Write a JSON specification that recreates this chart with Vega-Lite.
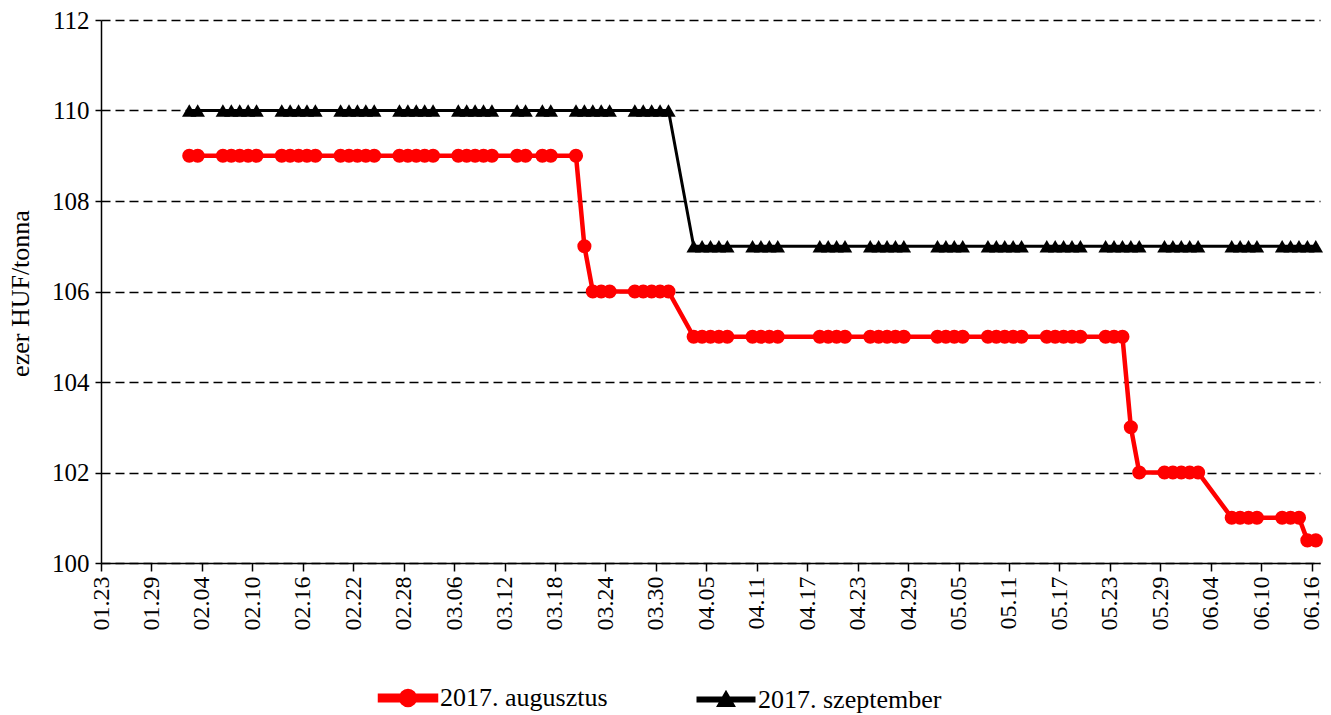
{
  "$schema": "https://vega.github.io/schema/vega-lite/v6.json",
  "width": 1219,
  "height": 543,
  "autosize": {"type": "none"},
  "padding": {"left": 101, "top": 20, "right": 11, "bottom": 152},
  "background": "white",
  "config": {
    "view": {"stroke": null},
    "font": "Liberation Serif"
  },
  "data": {
    "values": [
      {"d": "2017-02-02", "a": 109, "s": 110},
      {"d": "2017-02-03", "a": 109, "s": 110},
      {"d": "2017-02-06", "a": 109, "s": 110},
      {"d": "2017-02-07", "a": 109, "s": 110},
      {"d": "2017-02-08", "a": 109, "s": 110},
      {"d": "2017-02-09", "a": 109, "s": 110},
      {"d": "2017-02-10", "a": 109, "s": 110},
      {"d": "2017-02-13", "a": 109, "s": 110},
      {"d": "2017-02-14", "a": 109, "s": 110},
      {"d": "2017-02-15", "a": 109, "s": 110},
      {"d": "2017-02-16", "a": 109, "s": 110},
      {"d": "2017-02-17", "a": 109, "s": 110},
      {"d": "2017-02-20", "a": 109, "s": 110},
      {"d": "2017-02-21", "a": 109, "s": 110},
      {"d": "2017-02-22", "a": 109, "s": 110},
      {"d": "2017-02-23", "a": 109, "s": 110},
      {"d": "2017-02-24", "a": 109, "s": 110},
      {"d": "2017-02-27", "a": 109, "s": 110},
      {"d": "2017-02-28", "a": 109, "s": 110},
      {"d": "2017-03-01", "a": 109, "s": 110},
      {"d": "2017-03-02", "a": 109, "s": 110},
      {"d": "2017-03-03", "a": 109, "s": 110},
      {"d": "2017-03-06", "a": 109, "s": 110},
      {"d": "2017-03-07", "a": 109, "s": 110},
      {"d": "2017-03-08", "a": 109, "s": 110},
      {"d": "2017-03-09", "a": 109, "s": 110},
      {"d": "2017-03-10", "a": 109, "s": 110},
      {"d": "2017-03-13", "a": 109, "s": 110},
      {"d": "2017-03-14", "a": 109, "s": 110},
      {"d": "2017-03-16", "a": 109, "s": 110},
      {"d": "2017-03-17", "a": 109, "s": 110},
      {"d": "2017-03-20", "a": 109, "s": 110},
      {"d": "2017-03-21", "a": 107, "s": 110},
      {"d": "2017-03-22", "a": 106, "s": 110},
      {"d": "2017-03-23", "a": 106, "s": 110},
      {"d": "2017-03-24", "a": 106, "s": 110},
      {"d": "2017-03-27", "a": 106, "s": 110},
      {"d": "2017-03-28", "a": 106, "s": 110},
      {"d": "2017-03-29", "a": 106, "s": 110},
      {"d": "2017-03-30", "a": 106, "s": 110},
      {"d": "2017-03-31", "a": 106, "s": 110},
      {"d": "2017-04-03", "a": 105, "s": 107},
      {"d": "2017-04-04", "a": 105, "s": 107},
      {"d": "2017-04-05", "a": 105, "s": 107},
      {"d": "2017-04-06", "a": 105, "s": 107},
      {"d": "2017-04-07", "a": 105, "s": 107},
      {"d": "2017-04-10", "a": 105, "s": 107},
      {"d": "2017-04-11", "a": 105, "s": 107},
      {"d": "2017-04-12", "a": 105, "s": 107},
      {"d": "2017-04-13", "a": 105, "s": 107},
      {"d": "2017-04-18", "a": 105, "s": 107},
      {"d": "2017-04-19", "a": 105, "s": 107},
      {"d": "2017-04-20", "a": 105, "s": 107},
      {"d": "2017-04-21", "a": 105, "s": 107},
      {"d": "2017-04-24", "a": 105, "s": 107},
      {"d": "2017-04-25", "a": 105, "s": 107},
      {"d": "2017-04-26", "a": 105, "s": 107},
      {"d": "2017-04-27", "a": 105, "s": 107},
      {"d": "2017-04-28", "a": 105, "s": 107},
      {"d": "2017-05-02", "a": 105, "s": 107},
      {"d": "2017-05-03", "a": 105, "s": 107},
      {"d": "2017-05-04", "a": 105, "s": 107},
      {"d": "2017-05-05", "a": 105, "s": 107},
      {"d": "2017-05-08", "a": 105, "s": 107},
      {"d": "2017-05-09", "a": 105, "s": 107},
      {"d": "2017-05-10", "a": 105, "s": 107},
      {"d": "2017-05-11", "a": 105, "s": 107},
      {"d": "2017-05-12", "a": 105, "s": 107},
      {"d": "2017-05-15", "a": 105, "s": 107},
      {"d": "2017-05-16", "a": 105, "s": 107},
      {"d": "2017-05-17", "a": 105, "s": 107},
      {"d": "2017-05-18", "a": 105, "s": 107},
      {"d": "2017-05-19", "a": 105, "s": 107},
      {"d": "2017-05-22", "a": 105, "s": 107},
      {"d": "2017-05-23", "a": 105, "s": 107},
      {"d": "2017-05-24", "a": 105, "s": 107},
      {"d": "2017-05-25", "a": 103, "s": 107},
      {"d": "2017-05-26", "a": 102, "s": 107},
      {"d": "2017-05-29", "a": 102, "s": 107},
      {"d": "2017-05-30", "a": 102, "s": 107},
      {"d": "2017-05-31", "a": 102, "s": 107},
      {"d": "2017-06-01", "a": 102, "s": 107},
      {"d": "2017-06-02", "a": 102, "s": 107},
      {"d": "2017-06-06", "a": 101, "s": 107},
      {"d": "2017-06-07", "a": 101, "s": 107},
      {"d": "2017-06-08", "a": 101, "s": 107},
      {"d": "2017-06-09", "a": 101, "s": 107},
      {"d": "2017-06-12", "a": 101, "s": 107},
      {"d": "2017-06-13", "a": 101, "s": 107},
      {"d": "2017-06-14", "a": 101, "s": 107},
      {"d": "2017-06-15", "a": 100.5, "s": 107},
      {"d": "2017-06-16", "a": 100.5, "s": 107}
    ]
  },
  "transform": [
    {"fold": ["a", "s"], "as": ["series", "value"]}
  ],
  "encoding": {
    "x": {
      "field": "d",
      "type": "temporal",
      "scale": {
        "type": "utc",
        "domain": [
          {"year": 2017, "month": 1, "date": 22, "hours": 12, "utc": true},
          {"year": 2017, "month": 6, "date": 16, "hours": 12, "utc": true}
        ]
      },
      "axis": {
        "title": null,
        "labelExpr": "utcFormat(datum.value + 43200000, '%m.%d')",
        "values": [
          {"year": 2017, "month": 1, "date": 22, "hours": 12, "utc": true},
          {"year": 2017, "month": 1, "date": 28, "hours": 12, "utc": true},
          {"year": 2017, "month": 2, "date": 3, "hours": 12, "utc": true},
          {"year": 2017, "month": 2, "date": 9, "hours": 12, "utc": true},
          {"year": 2017, "month": 2, "date": 15, "hours": 12, "utc": true},
          {"year": 2017, "month": 2, "date": 21, "hours": 12, "utc": true},
          {"year": 2017, "month": 2, "date": 27, "hours": 12, "utc": true},
          {"year": 2017, "month": 3, "date": 5, "hours": 12, "utc": true},
          {"year": 2017, "month": 3, "date": 11, "hours": 12, "utc": true},
          {"year": 2017, "month": 3, "date": 17, "hours": 12, "utc": true},
          {"year": 2017, "month": 3, "date": 23, "hours": 12, "utc": true},
          {"year": 2017, "month": 3, "date": 29, "hours": 12, "utc": true},
          {"year": 2017, "month": 4, "date": 4, "hours": 12, "utc": true},
          {"year": 2017, "month": 4, "date": 10, "hours": 12, "utc": true},
          {"year": 2017, "month": 4, "date": 16, "hours": 12, "utc": true},
          {"year": 2017, "month": 4, "date": 22, "hours": 12, "utc": true},
          {"year": 2017, "month": 4, "date": 28, "hours": 12, "utc": true},
          {"year": 2017, "month": 5, "date": 4, "hours": 12, "utc": true},
          {"year": 2017, "month": 5, "date": 10, "hours": 12, "utc": true},
          {"year": 2017, "month": 5, "date": 16, "hours": 12, "utc": true},
          {"year": 2017, "month": 5, "date": 22, "hours": 12, "utc": true},
          {"year": 2017, "month": 5, "date": 28, "hours": 12, "utc": true},
          {"year": 2017, "month": 6, "date": 3, "hours": 12, "utc": true},
          {"year": 2017, "month": 6, "date": 9, "hours": 12, "utc": true},
          {"year": 2017, "month": 6, "date": 15, "hours": 12, "utc": true}
        ],
        "labelAngle": -90,
        "labelAlign": "right",
        "labelBaseline": "middle",
        "labelFlush": false,
        "labelBound": false,
        "labelOverlap": false,
        "labelFont": "Liberation Serif",
        "labelFontSize": 24,
        "labelColor": "black",
        "labelPadding": 5,
        "tickSize": 8,
        "tickColor": "black",
        "tickWidth": 1.5,
        "domainColor": "black",
        "domainWidth": 1.5,
        "grid": false
      }
    },
    "y": {
      "field": "value",
      "type": "quantitative",
      "scale": {"domain": [100, 112], "nice": false, "zero": false},
      "axis": {
        "title": "ezer HUF/tonna",
        "titleFont": "Liberation Serif",
        "titleFontSize": 26,
        "titleFontWeight": "normal",
        "titleColor": "black",
        "titleAngle": 270,
        "titleAlign": "center",
        "titleBaseline": "middle",
        "titleX": -81,
        "titleY": 273,
        "values": [100, 102, 104, 106, 108, 110, 112],
        "labelFont": "Liberation Serif",
        "labelFontSize": 25,
        "labelColor": "black",
        "labelPadding": 6,
        "tickSize": 6,
        "tickColor": "black",
        "tickWidth": 1.5,
        "domainColor": "black",
        "domainWidth": 1.5,
        "grid": true,
        "gridColor": "black",
        "gridDash": [9, 5],
        "gridWidth": 1.3
      }
    },
    "color": {
      "field": "series",
      "type": "nominal",
      "scale": {"domain": ["a", "s"], "range": ["#ff0000", "#000000"]},
      "legend": {
        "orient": "none",
        "direction": "horizontal",
        "legendX": 294,
        "legendY": 665,
        "title": null,
        "padding": 0,
        "labelFont": "Liberation Serif",
        "labelFontSize": 26,
        "labelColor": "black",
        "labelLimit": 0,
        "labelOffset": 19,
        "columnPadding": 84,
        "symbolSize": 196,
        "symbolStrokeWidth": 0,
        "labelExpr": "datum.value == 'a' ? '2017. augusztus' : '2017. szeptember'",
        "encode": {
          "symbols": {
            "update": {
              "shape": {"signal": "datum.value == 'a' ? 'M-4,-0.33H4V0.33H-4Z M-1,0A1,1 0 1,1 1,0A1,1 0 1,1 -1,0Z' : 'M-4,-0.22H4V0.22H-4Z M0,-0.95L1.05,0.85L-1.05,0.85Z'"},
              "fill": {"signal": "datum.value == 'a' ? '#ff0000' : '#000000'"},
              "fillOpacity": {"value": 1},
              "opacity": {"value": 1},
              "strokeWidth": {"value": 0}
            }
          }
        }
      }
    }
  },
  "layer": [
    {
      "mark": {"type": "line"},
      "encoding": {
        "strokeWidth": {
          "field": "series",
          "type": "nominal",
          "scale": {"domain": ["a", "s"], "range": [4.5, 3]},
          "legend": null
        }
      }
    },
    {
      "transform": [{"filter": "datum.series == 'a'"}],
      "mark": {"type": "point", "filled": true, "opacity": 1, "size": 200, "shape": "circle"}
    },
    {
      "transform": [{"filter": "datum.series == 's'"}],
      "mark": {"type": "point", "filled": true, "opacity": 1, "size": 210, "shape": "triangle-up"}
    }
  ]
}
